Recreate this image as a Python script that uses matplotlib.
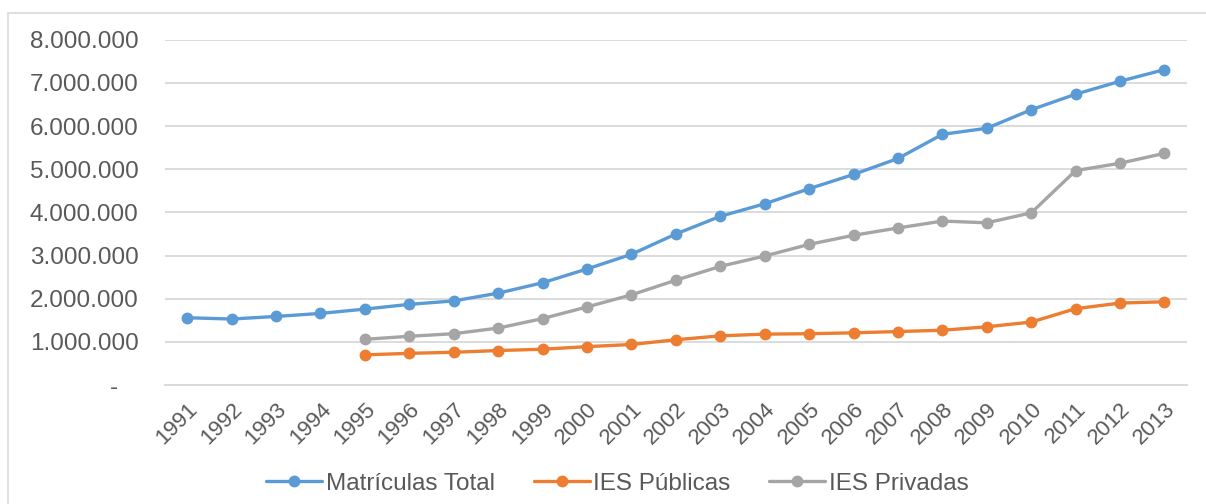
import matplotlib
matplotlib.use("Agg")
import matplotlib.pyplot as plt
from matplotlib.patches import Rectangle
from matplotlib.ticker import FuncFormatter

plt.rcParams['font.family'] = ['Liberation Sans', 'DejaVu Sans']

anos = list(range(1991, 2014))
# matrículas em milhões
total = [1.56, 1.53, 1.59, 1.66, 1.76, 1.87, 1.95, 2.13, 2.37, 2.69, 3.03, 3.50,
         3.91, 4.20, 4.55, 4.88, 5.25, 5.81, 5.95, 6.38, 6.74, 7.04, 7.31]
anos_ies = list(range(1995, 2014))
publicas = [0.70, 0.735, 0.76, 0.80, 0.83, 0.89, 0.94, 1.05, 1.14, 1.18, 1.19,
            1.21, 1.24, 1.27, 1.35, 1.46, 1.77, 1.90, 1.93]
privadas = [1.06, 1.13, 1.19, 1.32, 1.54, 1.81, 2.09, 2.43, 2.75, 2.99, 3.26,
            3.47, 3.64, 3.80, 3.76, 3.99, 4.97, 5.14, 5.37]

azul = '#5B9BD5'
laranja = '#ED7D31'
cinza = '#A5A5A5'
texto = '#595959'

fig = plt.figure(figsize=(12.06, 5.04), dpi=100)
ax = fig.add_axes([0.1368, 0.236, 0.8472, 0.685])

xi = [a - 1991 for a in anos]
xi_ies = [a - 1991 for a in anos_ies]
estilo = dict(lw=2.4, marker='o', markersize=7.5, solid_capstyle='round')
ax.plot(xi, [v * 1e6 for v in total], color=azul, label='Matrículas Total', **estilo)
ax.plot(xi_ies, [v * 1e6 for v in publicas], color=laranja, label='IES Públicas', **estilo)
ax.plot(xi_ies, [v * 1e6 for v in privadas], color=cinza, label='IES Privadas', **estilo)

ax.set_xlim(-0.5, len(anos) - 0.5)
ax.set_ylim(0, 8e6)
ax.set_yticks([i * 1e6 for i in range(9)])


def fmt(v, pos):
    if v == 0:
        return '-   '
    return f'{int(v):,}'.replace(',', '.')


ax.yaxis.set_major_formatter(FuncFormatter(fmt))
ax.set_xticks(xi)
ax.set_xticklabels([str(a) for a in anos], rotation=45, ha='right',
                   rotation_mode='anchor')
ax.tick_params(axis='y', length=0, pad=19, labelsize=17.5, labelcolor=texto)
ax.tick_params(axis='x', length=0, pad=10, labelsize=16, labelcolor=texto)

ax.grid(axis='y', color='#D9D9D9', lw=1.3)
ax.set_axisbelow(True)
for s in ['top', 'right', 'left']:
    ax.spines[s].set_visible(False)
ax.spines['bottom'].set_color('#D9D9D9')
ax.spines['bottom'].set_linewidth(1.3)

fig.legend(loc='lower center', bbox_to_anchor=(0.512, -0.025), ncol=3, frameon=False,
           fontsize=17.5, labelcolor=texto, handlelength=2.3, columnspacing=1.6,
           handletextpad=0.15)

fig.patches.append(Rectangle((8 / 1206, -0.01), 1.1, 1 - 13 / 504 + 0.01,
                             transform=fig.transFigure, fill=False,
                             edgecolor='#D9D9D9', lw=1.2))

fig.savefig('out.png', dpi=100)
